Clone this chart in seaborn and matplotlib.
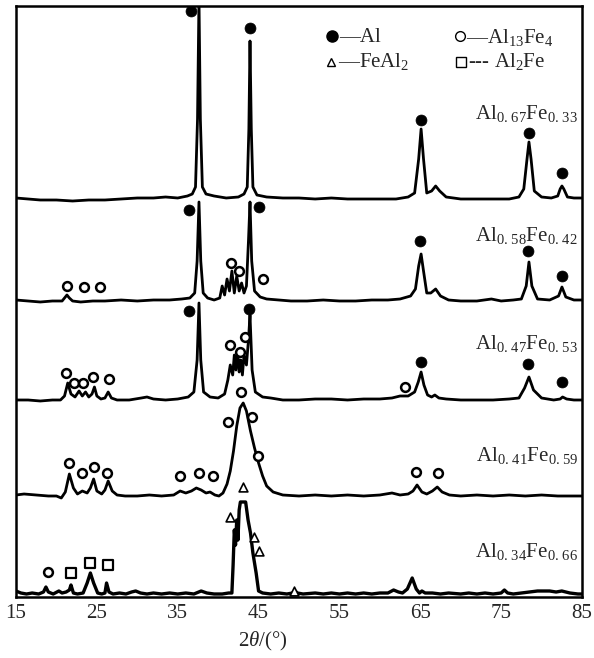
import numpy as np
import pandas as pd
import matplotlib
matplotlib.use("Agg")
import matplotlib.pyplot as plt
import seaborn as sns

# ---------------- data (2theta in degrees, intensity above each trace's baseline) -------------
labels = [r"Al$_{0.\,67}$Fe$_{0.\,33}$", r"Al$_{0.\,58}$Fe$_{0.\,42}$", r"Al$_{0.\,47}$Fe$_{0.\,53}$",
          r"Al$_{0.\,41}$Fe$_{0.\,59}$", r"Al$_{0.\,34}$Fe$_{0.\,66}$"]
offsets = [398, 296, 197, 101, 2]

t1_x = [15, 16.5, 18, 20, 22, 24, 26, 28, 30, 32, 33.5, 35, 36.2, 36.8, 37.2, 37.45, 37.63, 37.8, 38.05,
        38.5, 39.5, 41, 42.5, 43.2, 43.6, 43.8, 43.94, 44.1, 44.3, 44.8, 46, 48, 50, 52, 54, 56, 58, 60,
        62, 63.5, 64.3, 64.8, 65.1, 65.4, 65.8, 66.4, 66.9, 67.4, 68.2, 70, 72, 74, 76, 77.2, 77.8, 78.2,
        78.44, 78.7, 79.1, 80, 81.2, 82.0, 82.3, 82.52, 82.75, 83.2, 84, 85]
t1_y = [1, 0, -1, -1, -2, -1, -1, 0, 1, 1, 2, 1, 3, 5, 12, 80, 200, 80, 12, 5, 3, 1, 2, 5, 12, 70, 158,
        70, 12, 4, 2, 1, 1, 0, 1, 0, 0, 0, 0, 2, 6, 40, 70, 40, 6, 8, 13, 8, 2, 0, 0, 0, 0, 2, 10, 40, 57,
        40, 8, 2, 1, 3, 10, 13, 10, 2, 1, 1]

t2_x = [15, 16.5, 18, 19.5, 20.7, 21.3, 21.6, 22, 23, 24.5, 26, 28, 30, 32, 34, 35.5, 36.5, 37.1, 37.4,
        37.63, 37.85, 38.15, 38.7, 39.5, 40.2, 40.5, 40.8, 41.1, 41.4, 41.7, 42.0, 42.3, 42.6, 42.9, 43.2,
        43.5, 43.75, 43.94, 44.15, 44.5, 45.2, 46, 47.5, 49, 51, 53, 55, 57, 59, 61, 62.5, 63.8, 64.4,
        64.8, 65.1, 65.4, 65.8, 66.3, 66.9, 67.5, 68.5, 70, 72, 73.8, 75, 76.5, 77.5, 78.1, 78.44, 78.8,
        79.5, 81, 82.1, 82.52, 83.0, 84, 85]
t2_y = [1, 0, -1, 0, 0, 6, 3, 0, -1, 0, 0, 1, 0, 1, 1, 2, 3, 8, 40, 99, 40, 8, 3, 1, 3, 15, 6, 22, 10,
        30, 8, 25, 10, 18, 8, 15, 60, 99, 40, 10, 4, 2, 1, 0, 0, 1, 0, 0, 1, 1, 2, 5, 12, 35, 47, 30, 8,
        8, 12, 5, 1, 0, 0, 2, 0, 1, 2, 15, 39, 15, 2, 1, 5, 14, 4, 1, 1]

t3_x = [15, 16.5, 18, 19.5, 20.5, 21.0, 21.4, 21.8, 22.3, 22.8, 23.2, 23.6, 24.0, 24.4, 24.7, 25.0,
        25.5, 26.0, 26.4, 26.8, 27.5, 29, 30.5, 31.2, 32, 33.5, 35, 36.3, 37.0, 37.4, 37.63, 37.85, 38.2,
        39, 40, 40.8, 41.2, 41.5, 41.8, 42.0, 42.2, 42.4, 42.6, 42.8, 43.0, 43.2, 43.5, 43.75, 43.94,
        44.2, 44.6, 45.5, 46.5, 48, 50, 52, 54, 56, 58, 60, 61.5, 62.5, 63.5, 64.3, 64.75, 65.1, 65.45,
        65.9, 66.4, 66.8, 67.3, 68.2, 70, 72, 74, 76, 77.2, 77.9, 78.44, 79.0, 80, 81.5, 82.3, 82.6, 83.1,
        84, 85]
t3_y = [0, 0, -1, 0, 0, 4, 17, 6, 3, 9, 4, 8, 3, 6, 13, 4, 1, 2, 8, 2, 0, 0, 2, 3, 1, 0, 1, 3, 8, 40, 97,
        40, 8, 3, 2, 6, 20, 35, 25, 45, 30, 50, 28, 40, 25, 45, 35, 60, 85, 30, 8, 3, 2, 0, 0, 1, 1, 0, 1,
        1, 2, 4, 4, 8, 18, 28, 15, 5, 3, 5, 2, 1, 0, 0, 0, 1, 2, 12, 23, 10, 2, 0, 1, 3, 1, 0, 0]

t4_x = [15, 16, 17.5, 19, 20.0, 20.6, 21.1, 21.6, 22.1, 22.6, 23.2, 23.8, 24.2, 24.6, 25.0, 25.6, 26.0,
        26.4, 26.9, 27.5, 28.5, 30, 31.5, 33, 34.5, 35.3, 36, 36.7, 37.3, 37.9, 38.5, 39.0, 39.6, 40.1,
        40.6, 41.1, 41.5, 41.9, 42.3, 42.7, 43.1, 43.5, 44.0, 44.5, 45.0, 45.5, 46.0, 46.8, 48, 50, 52, 54,
        56, 58, 60, 61.5, 62.5, 63.5, 64.1, 64.6, 65.2, 65.8, 66.5, 67.1, 67.7, 68.6, 70, 72, 74, 76, 78,
        80, 82, 84, 85]
t4_y = [1, 2, 1, 0, 0, -2, 4, 22, 8, 2, 5, 3, 8, 17, 5, 2, 6, 15, 5, 1, 0, 0, 1, 0, 1, 5, 3, 5, 8, 6, 3,
        4, 1, 0, 3, 12, 25, 45, 70, 88, 93, 85, 65, 48, 33, 20, 10, 4, 1, 0, 1, 0, 1, 0, 1, 3, 1, 2, 5,
        11, 4, 2, 5, 9, 4, 1, 0, 1, 0, 1, 0, 1, 0, 0, 0]

t5_x = [15, 15.6, 16.3, 17, 17.8, 18.4, 18.7, 19.0, 19.6, 20.3, 20.7, 21.2, 21.6, 21.8, 22.1, 22.6,
        23.3, 23.8, 24.2, 24.6, 25.1, 25.6, 26.0, 26.2, 26.5, 27.0, 27.8, 28.6, 29.3, 29.8, 30.4, 31.2,
        32, 33, 34, 35, 36, 37, 37.9, 38.6, 39.5, 40.5, 41.3, 41.7, 41.85, 42.0, 42.15, 42.3, 42.45, 42.6,
        42.75, 43.4, 43.7, 44.0, 44.3, 44.7, 45.0, 45.5, 46.5, 47.5, 48.5, 49.2, 49.5, 49.8, 50.5, 52, 53,
        54, 55, 56, 57, 58, 59, 60, 61, 61.7, 62.3, 62.8, 63.4, 64.0, 64.5, 64.9, 65.2, 65.6, 66.5, 67.5,
        68.5, 70, 71, 72, 73, 74, 75, 75.4, 75.8, 76.5, 77.5, 78.5, 79.5, 80.3, 81.0, 81.8, 82.5, 83.5,
        84.5, 85]
t5_y = [4, 2, 1, 2, 1, 3, 8, 3, 1, 4, 2, 3, 5, 10, 2, 1, 2, 12, 22, 12, 2, 1, 2, 12, 3, 1, 2, 1, 3, 4,
        2, 1, 2, 1, 2, 1, 2, 1, 4, 2, 1, 1, 2, 2, 30, 65, 50, 75, 55, 85, 93, 93, 75, 62, 42, 22, 4, 2, 1,
        2, 1, 2, 4, 2, 1, 2, 1, 2, 1, 2, 1, 2, 1, 2, 2, 5, 3, 2, 6, 17, 6, 2, 4, 2, 2, 1, 2, 1, 2, 1, 2,
        1, 2, 5, 2, 1, 2, 3, 4, 4, 4, 3, 4, 2, 1, 1]

# phase markers: (trace index, 2theta, height above baseline)
al_trace = [0, 0, 0, 0, 0, 1, 1, 1, 1, 1, 2, 2, 2, 2, 2]
al_x = [36.7, 43.94, 65.1, 78.4, 82.5, 36.4, 45.05, 65.0, 78.3, 82.5, 36.4, 43.8, 65.1, 78.3, 82.5]
al_y = [188, 171, 79, 66, 26, 91, 94, 60, 50, 25, 89, 91, 38, 36, 18]

al13_trace = [1, 1, 1, 1, 1, 1,
              2, 2, 2, 2, 2, 2, 2, 2, 2,
              3, 3, 3, 3, 3, 3, 3, 3, 3, 3, 3, 3, 3,
              4]
al13_x = [21.3, 23.4, 25.4, 41.6, 42.6, 45.5,
          21.2, 22.2, 23.3, 24.5, 26.5, 41.5, 42.7, 43.3, 63.1,
          21.6, 23.2, 24.6, 26.3, 35.3, 37.6, 39.4, 41.2, 42.8, 44.2, 44.9, 64.5, 67.2,
          19.0]
al13_y = [15, 14, 14, 38, 30, 22,
          27, 17, 17, 23, 21, 55, 48, 63, 13,
          33, 23, 29, 23, 20, 23, 20, 74, 104, 79, 40, 24, 23,
          23]

feal2_trace = [4, 4, 4, 4, 4]
feal2_x = [41.5, 43.1, 44.4, 45.05, 49.4]
feal2_y = [78, 108, 58, 44, 4]

al2fe_trace = [4, 4, 4]
al2fe_x = [21.8, 24.2, 26.4]
al2fe_y = [22, 32, 30]

xticks = [15, 25, 35, 45, 55, 65, 75, 85]

# ---------------- style -------------
sns.set_style("white")
plt.rcParams["font.family"] = ["Liberation Serif", "DejaVu Serif"]
plt.rcParams["mathtext.fontset"] = "custom"
plt.rcParams["mathtext.rm"] = "Liberation Serif"
plt.rcParams["mathtext.it"] = "Liberation Serif:italic"
plt.rcParams["mathtext.bf"] = "Liberation Serif:bold"

FS = 15
W, H = 594, 658
fig = plt.figure(figsize=(W / 100, H / 100), dpi=100)
ax = fig.add_axes([16 / W, 61 / H, 566 / W, 591 / H])

traces = [(t1_x, t1_y), (t2_x, t2_y), (t3_x, t3_y), (t4_x, t4_y), (t5_x, t5_y)]
rows = []
for i, (xs, ys) in enumerate(traces):
    for j, (xv, yv) in enumerate(zip(xs, ys)):
        rows.append({"trace": i, "order": j, "theta": xv, "I": yv + offsets[i]})
df = pd.DataFrame(rows)

for i in range(5):
    sub = df[df.trace == i]
    sns.lineplot(data=sub, x="theta", y="I", ax=ax, color="black", lw=2.0 if i < 4 else 2.4,
                 estimator=None, sort=False, legend=False)


def mk(tr, xs, ys):
    return pd.DataFrame({"theta": xs, "I": [y + offsets[t] for t, y in zip(tr, ys)]})


sns.scatterplot(data=mk(al_trace, al_x, al_y), x="theta", y="I", ax=ax, marker="o", s=62,
                color="black", edgecolor="black", linewidth=0.5, zorder=5, legend=False)
sns.scatterplot(data=mk(al13_trace, al13_x, al13_y), x="theta", y="I", ax=ax, marker="o", s=40,
                facecolor="white", edgecolor="black", linewidth=1.8, zorder=5, legend=False)
sns.scatterplot(data=mk(feal2_trace, feal2_x, feal2_y), x="theta", y="I", ax=ax, marker="^", s=40,
                facecolor="white", edgecolor="black", linewidth=1.2, zorder=5, legend=False)
sns.scatterplot(data=mk(al2fe_trace, al2fe_x, al2fe_y), x="theta", y="I", ax=ax, marker="s", s=48,
                facecolor="white", edgecolor="black", linewidth=1.6, zorder=5, legend=False)

ax.set_xlim(15, 85)
ax.set_ylim(0, 591)
ax.set_xticks(xticks)
ax.set_xticklabels([str(t) for t in xticks], fontsize=FS)
ax.set_yticks([])
ax.tick_params(axis="x", length=0, pad=5)
ax.set_xlabel("")
ax.set_ylabel("")
for s in ax.spines.values():
    s.set_color("black")
    s.set_linewidth(1.8)

# x label
fig.text(263 / W, 1 - 641 / H, r"2$\it{\theta}$/(°)", ha="center", va="center", fontsize=FS)

# sample labels
label_y = [113, 235, 343, 455, 551]
for lab, yy in zip(labels, label_y):
    fig.text(578 / W, 1 - yy / H, lab, ha="right", va="center", fontsize=FS)


# legend block
def fx(px):
    return px / W


def fy(py):
    return 1 - py / H


fig.lines.append(plt.Line2D([fx(332)], [fy(36)], marker="o", ms=8, color="black",
                            transform=fig.transFigure))
fig.text(fx(339), fy(38), "—Al", ha="left", va="center", fontsize=FS)
fig.lines.append(plt.Line2D([fx(460)], [fy(36)], marker="o", ms=7, mfc="white", mec="black", mew=1.0,
                            color="black", transform=fig.transFigure))
fig.text(fx(466), fy(38), "—Al$_{13}$Fe$_4$", ha="left", va="center", fontsize=FS)
fig.lines.append(plt.Line2D([fx(331)], [fy(62)], marker="^", ms=6, mfc="white", mec="black", mew=1.0,
                            color="black", transform=fig.transFigure))
fig.text(fx(338), fy(61), "—FeAl$_2$", ha="left", va="center", fontsize=FS)
fig.lines.append(plt.Line2D([fx(461)], [fy(62)], marker="s", ms=7, mfc="white", mec="black", mew=1.0,
                            color="black", transform=fig.transFigure))
fig.text(fx(468), fy(61), "--- Al$_2$Fe", ha="left", va="center", fontsize=FS)

fig.savefig("out.png", dpi=100, facecolor="white")
